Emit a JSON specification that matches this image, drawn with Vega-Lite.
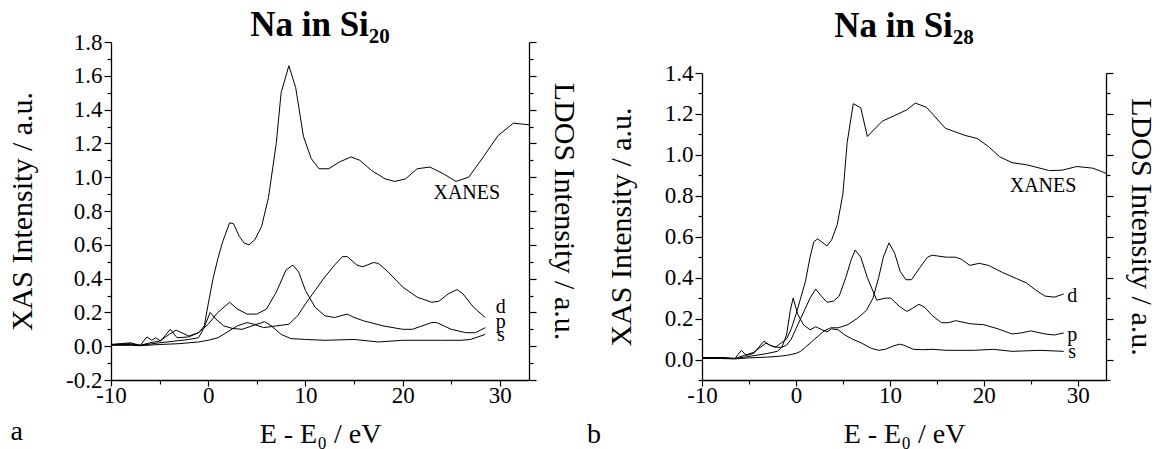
{
  "$schema": "https://vega.github.io/schema/vega-lite/v6.json",
  "background": "white",
  "padding": {"left": 7, "top": 8, "right": 0, "bottom": 0},
  "spacing": 7,
  "config": {
    "view": {"stroke": null},
    "axis": {"labelFont": "Liberation Serif, Times New Roman, serif", "titleFont": "Liberation Serif, Times New Roman, serif"},
    "style": {"guide-label": {"font": "Liberation Serif, Times New Roman, serif"}, "guide-title": {"font": "Liberation Serif, Times New Roman, serif"}}
  },
  "datasets": {
    "a": [
      {"c":"XANES","x":-10,"y":0.01},{"c":"XANES","x":-9,"y":0.015},{"c":"XANES","x":-8,"y":0.02},{"c":"XANES","x":-7,"y":0.005},{"c":"XANES","x":-6.3,"y":0.055},{"c":"XANES","x":-5.8,"y":0.035},{"c":"XANES","x":-5.4,"y":0.05},{"c":"XANES","x":-4.9,"y":0.03},{"c":"XANES","x":-3.9,"y":0.1},{"c":"XANES","x":-3.2,"y":0.05},{"c":"XANES","x":-2,"y":0.055},{"c":"XANES","x":-1,"y":0.08},{"c":"XANES","x":-0.4,"y":0.12},{"c":"XANES","x":0,"y":0.25},{"c":"XANES","x":0.5,"y":0.4},{"c":"XANES","x":1,"y":0.52},{"c":"XANES","x":1.5,"y":0.62},{"c":"XANES","x":2.2,"y":0.73},{"c":"XANES","x":2.6,"y":0.725},{"c":"XANES","x":3.2,"y":0.65},{"c":"XANES","x":3.7,"y":0.61},{"c":"XANES","x":4.2,"y":0.6},{"c":"XANES","x":4.8,"y":0.63},{"c":"XANES","x":5.5,"y":0.71},{"c":"XANES","x":6.2,"y":0.88},{"c":"XANES","x":7.0,"y":1.2},{"c":"XANES","x":7.5,"y":1.5},{"c":"XANES","x":8.3,"y":1.66},{"c":"XANES","x":9.0,"y":1.53},{"c":"XANES","x":9.8,"y":1.24},{"c":"XANES","x":10.6,"y":1.11},{"c":"XANES","x":11.4,"y":1.05},{"c":"XANES","x":12.4,"y":1.05},{"c":"XANES","x":13.5,"y":1.09},{"c":"XANES","x":14.7,"y":1.12},{"c":"XANES","x":15.6,"y":1.1},{"c":"XANES","x":16.8,"y":1.04},{"c":"XANES","x":18.2,"y":0.99},{"c":"XANES","x":19.2,"y":0.975},{"c":"XANES","x":20.3,"y":0.99},{"c":"XANES","x":21.5,"y":1.05},{"c":"XANES","x":22.8,"y":1.06},{"c":"XANES","x":24.2,"y":1.02},{"c":"XANES","x":25.5,"y":0.975},{"c":"XANES","x":26.8,"y":1.0},{"c":"XANES","x":28.3,"y":1.12},{"c":"XANES","x":29.8,"y":1.245},{"c":"XANES","x":31.4,"y":1.32},{"c":"XANES","x":33,"y":1.31},
      {"c":"p","x":-10,"y":0.01},{"c":"p","x":-8,"y":0.015},{"c":"p","x":-7,"y":0.005},{"c":"p","x":-6,"y":0.02},{"c":"p","x":-5,"y":0.03},{"c":"p","x":-4,"y":0.07},{"c":"p","x":-3.3,"y":0.095},{"c":"p","x":-2,"y":0.06},{"c":"p","x":-1,"y":0.08},{"c":"p","x":0,"y":0.13},{"c":"p","x":1,"y":0.2},{"c":"p","x":2.2,"y":0.26},{"c":"p","x":3,"y":0.22},{"c":"p","x":4,"y":0.19},{"c":"p","x":5,"y":0.19},{"c":"p","x":6,"y":0.22},{"c":"p","x":7,"y":0.32},{"c":"p","x":8,"y":0.45},{"c":"p","x":8.7,"y":0.48},{"c":"p","x":9.3,"y":0.44},{"c":"p","x":10,"y":0.33},{"c":"p","x":11,"y":0.23},{"c":"p","x":12,"y":0.18},{"c":"p","x":13,"y":0.17},{"c":"p","x":14.3,"y":0.19},{"c":"p","x":15,"y":0.17},{"c":"p","x":16,"y":0.15},{"c":"p","x":18,"y":0.12},{"c":"p","x":20,"y":0.1},{"c":"p","x":21,"y":0.1},{"c":"p","x":22,"y":0.12},{"c":"p","x":23,"y":0.14},{"c":"p","x":23.5,"y":0.14},{"c":"p","x":25,"y":0.1},{"c":"p","x":26.5,"y":0.08},{"c":"p","x":27.5,"y":0.08},{"c":"p","x":28.5,"y":0.11},
      {"c":"s","x":-10,"y":0.01},{"c":"s","x":-8,"y":0.01},{"c":"s","x":-7,"y":0.005},{"c":"s","x":-5,"y":0.02},{"c":"s","x":-3.5,"y":0.03},{"c":"s","x":-2,"y":0.04},{"c":"s","x":-1,"y":0.05},{"c":"s","x":-0.5,"y":0.1},{"c":"s","x":0.2,"y":0.2},{"c":"s","x":0.8,"y":0.16},{"c":"s","x":1.6,"y":0.12},{"c":"s","x":2.5,"y":0.105},{"c":"s","x":3.5,"y":0.1},{"c":"s","x":4.5,"y":0.12},{"c":"s","x":5.8,"y":0.145},{"c":"s","x":6.5,"y":0.12},{"c":"s","x":7.5,"y":0.07},{"c":"s","x":8.5,"y":0.045},{"c":"s","x":10,"y":0.04},{"c":"s","x":12,"y":0.035},{"c":"s","x":15,"y":0.04},{"c":"s","x":17.5,"y":0.025},{"c":"s","x":20,"y":0.035},{"c":"s","x":24,"y":0.035},{"c":"s","x":26,"y":0.035},{"c":"s","x":27,"y":0.04},{"c":"s","x":28.5,"y":0.07},
      {"c":"d","x":-10,"y":0.005},{"c":"d","x":-8,"y":0.005},{"c":"d","x":-7,"y":0.003},{"c":"d","x":-5,"y":0.01},{"c":"d","x":-3,"y":0.015},{"c":"d","x":-1,"y":0.025},{"c":"d","x":0,"y":0.035},{"c":"d","x":1,"y":0.05},{"c":"d","x":2,"y":0.085},{"c":"d","x":3,"y":0.12},{"c":"d","x":4,"y":0.14},{"c":"d","x":4.7,"y":0.13},{"c":"d","x":5.7,"y":0.11},{"c":"d","x":7,"y":0.12},{"c":"d","x":8.3,"y":0.13},{"c":"d","x":9.2,"y":0.18},{"c":"d","x":10,"y":0.25},{"c":"d","x":11,"y":0.33},{"c":"d","x":12,"y":0.41},{"c":"d","x":13,"y":0.48},{"c":"d","x":13.8,"y":0.53},{"c":"d","x":14.3,"y":0.53},{"c":"d","x":15.3,"y":0.48},{"c":"d","x":15.9,"y":0.47},{"c":"d","x":17,"y":0.495},{"c":"d","x":17.5,"y":0.49},{"c":"d","x":18.5,"y":0.44},{"c":"d","x":20,"y":0.35},{"c":"d","x":21.5,"y":0.29},{"c":"d","x":23,"y":0.26},{"c":"d","x":23.7,"y":0.265},{"c":"d","x":24.7,"y":0.31},{"c":"d","x":25.6,"y":0.335},{"c":"d","x":26.2,"y":0.31},{"c":"d","x":27.3,"y":0.23},{"c":"d","x":28.5,"y":0.17}
    ],
    "b": [
      {"c":"XANES","x":-10,"y":0.01},{"c":"XANES","x":-8,"y":0.01},{"c":"XANES","x":-6.5,"y":0.005},{"c":"XANES","x":-5.8,"y":0.045},{"c":"XANES","x":-5.3,"y":0.02},{"c":"XANES","x":-4.5,"y":0.03},{"c":"XANES","x":-3.4,"y":0.09},{"c":"XANES","x":-2.8,"y":0.07},{"c":"XANES","x":-2.2,"y":0.06},{"c":"XANES","x":-1.6,"y":0.08},{"c":"XANES","x":-1,"y":0.1},{"c":"XANES","x":-0.5,"y":0.15},{"c":"XANES","x":0,"y":0.22},{"c":"XANES","x":0.5,"y":0.3},{"c":"XANES","x":1,"y":0.38},{"c":"XANES","x":1.5,"y":0.5},{"c":"XANES","x":1.9,"y":0.575},{"c":"XANES","x":2.3,"y":0.59},{"c":"XANES","x":3.3,"y":0.555},{"c":"XANES","x":3.8,"y":0.585},{"c":"XANES","x":4.4,"y":0.66},{"c":"XANES","x":5.0,"y":0.81},{"c":"XANES","x":5.45,"y":1.06},{"c":"XANES","x":6.1,"y":1.25},{"c":"XANES","x":6.9,"y":1.23},{"c":"XANES","x":7.6,"y":1.09},{"c":"XANES","x":9.2,"y":1.165},{"c":"XANES","x":10.4,"y":1.19},{"c":"XANES","x":11.8,"y":1.22},{"c":"XANES","x":12.7,"y":1.253},{"c":"XANES","x":13.9,"y":1.232},{"c":"XANES","x":15.9,"y":1.13},{"c":"XANES","x":18,"y":1.095},{"c":"XANES","x":19.3,"y":1.08},{"c":"XANES","x":20.5,"y":1.04},{"c":"XANES","x":21.7,"y":0.99},{"c":"XANES","x":23,"y":0.962},{"c":"XANES","x":24.6,"y":0.951},{"c":"XANES","x":27,"y":0.923},{"c":"XANES","x":28.3,"y":0.925},{"c":"XANES","x":29.9,"y":0.943},{"c":"XANES","x":31.6,"y":0.935},{"c":"XANES","x":33,"y":0.91},
      {"c":"p","x":-10,"y":0.01},{"c":"p","x":-8,"y":0.008},{"c":"p","x":-6.5,"y":0.005},{"c":"p","x":-5.5,"y":0.02},{"c":"p","x":-4.5,"y":0.035},{"c":"p","x":-3.2,"y":0.08},{"c":"p","x":-2.5,"y":0.065},{"c":"p","x":-2,"y":0.06},{"c":"p","x":-1.5,"y":0.06},{"c":"p","x":-1,"y":0.07},{"c":"p","x":-0.5,"y":0.1},{"c":"p","x":0,"y":0.15},{"c":"p","x":0.5,"y":0.2},{"c":"p","x":1,"y":0.25},{"c":"p","x":1.5,"y":0.3},{"c":"p","x":2.1,"y":0.345},{"c":"p","x":2.7,"y":0.31},{"c":"p","x":3.3,"y":0.28},{"c":"p","x":4.0,"y":0.285},{"c":"p","x":4.6,"y":0.31},{"c":"p","x":5.3,"y":0.4},{"c":"p","x":5.9,"y":0.49},{"c":"p","x":6.3,"y":0.535},{"c":"p","x":6.9,"y":0.5},{"c":"p","x":7.6,"y":0.4},{"c":"p","x":8.6,"y":0.29},{"c":"p","x":9.5,"y":0.3},{"c":"p","x":10.1,"y":0.3},{"c":"p","x":11,"y":0.26},{"c":"p","x":11.8,"y":0.235},{"c":"p","x":12.4,"y":0.25},{"c":"p","x":13.1,"y":0.27},{"c":"p","x":13.7,"y":0.255},{"c":"p","x":14.5,"y":0.215},{"c":"p","x":15.5,"y":0.18},{"c":"p","x":16.2,"y":0.18},{"c":"p","x":17,"y":0.19},{"c":"p","x":18.5,"y":0.175},{"c":"p","x":20,"y":0.17},{"c":"p","x":21.5,"y":0.15},{"c":"p","x":23,"y":0.125},{"c":"p","x":24,"y":0.13},{"c":"p","x":25,"y":0.14},{"c":"p","x":26.5,"y":0.125},{"c":"p","x":27.5,"y":0.12},{"c":"p","x":28.5,"y":0.13},
      {"c":"s","x":-10,"y":0.01},{"c":"s","x":-8,"y":0.008},{"c":"s","x":-6.5,"y":0.005},{"c":"s","x":-5,"y":0.015},{"c":"s","x":-3,"y":0.03},{"c":"s","x":-2,"y":0.04},{"c":"s","x":-1.5,"y":0.06},{"c":"s","x":-1,"y":0.12},{"c":"s","x":-0.6,"y":0.24},{"c":"s","x":-0.3,"y":0.3},{"c":"s","x":0.2,"y":0.22},{"c":"s","x":0.8,"y":0.17},{"c":"s","x":1.5,"y":0.145},{"c":"s","x":2.1,"y":0.16},{"c":"s","x":2.8,"y":0.145},{"c":"s","x":3.3,"y":0.135},{"c":"s","x":3.8,"y":0.15},{"c":"s","x":4.5,"y":0.145},{"c":"s","x":5.2,"y":0.12},{"c":"s","x":6,"y":0.1},{"c":"s","x":7,"y":0.08},{"c":"s","x":8,"y":0.055},{"c":"s","x":8.8,"y":0.045},{"c":"s","x":9.5,"y":0.05},{"c":"s","x":10.3,"y":0.065},{"c":"s","x":11,"y":0.075},{"c":"s","x":11.5,"y":0.07},{"c":"s","x":12.5,"y":0.05},{"c":"s","x":13.5,"y":0.048},{"c":"s","x":14.5,"y":0.05},{"c":"s","x":16,"y":0.045},{"c":"s","x":19,"y":0.045},{"c":"s","x":21,"y":0.05},{"c":"s","x":23,"y":0.04},{"c":"s","x":26,"y":0.045},{"c":"s","x":28.5,"y":0.04},
      {"c":"d","x":-10,"y":0.005},{"c":"d","x":-8,"y":0.005},{"c":"d","x":-6.5,"y":0.003},{"c":"d","x":-5,"y":0.008},{"c":"d","x":-3,"y":0.012},{"c":"d","x":-2,"y":0.015},{"c":"d","x":-1,"y":0.02},{"c":"d","x":0,"y":0.03},{"c":"d","x":0.5,"y":0.04},{"c":"d","x":1,"y":0.06},{"c":"d","x":2,"y":0.1},{"c":"d","x":3,"y":0.14},{"c":"d","x":3.7,"y":0.155},{"c":"d","x":4.5,"y":0.155},{"c":"d","x":5.5,"y":0.17},{"c":"d","x":6.5,"y":0.2},{"c":"d","x":7.5,"y":0.24},{"c":"d","x":8.2,"y":0.3},{"c":"d","x":8.8,"y":0.4},{"c":"d","x":9.3,"y":0.5},{"c":"d","x":9.9,"y":0.57},{"c":"d","x":10.5,"y":0.52},{"c":"d","x":11.1,"y":0.43},{"c":"d","x":11.7,"y":0.39},{"c":"d","x":12.3,"y":0.39},{"c":"d","x":13.2,"y":0.45},{"c":"d","x":14,"y":0.5},{"c":"d","x":14.5,"y":0.51},{"c":"d","x":15.2,"y":0.505},{"c":"d","x":16,"y":0.5},{"c":"d","x":17,"y":0.5},{"c":"d","x":17.6,"y":0.49},{"c":"d","x":18.5,"y":0.46},{"c":"d","x":19.5,"y":0.47},{"c":"d","x":20.5,"y":0.46},{"c":"d","x":22,"y":0.425},{"c":"d","x":23.5,"y":0.395},{"c":"d","x":24.5,"y":0.375},{"c":"d","x":25.5,"y":0.34},{"c":"d","x":26.5,"y":0.31},{"c":"d","x":27.5,"y":0.305},{"c":"d","x":28.5,"y":0.32}
    ],
    "la": [
      {"x":26.6,"y":0.905,"t":"XANES"},{"x":30.1,"y":0.234,"t":"d"},{"x":30.1,"y":0.145,"t":"p"},{"x":30.1,"y":0.066,"t":"s"}
    ],
    "lb": [
      {"x":26.3,"y":0.848,"t":"XANES"},{"x":29.4,"y":0.31,"t":"d"},{"x":29.4,"y":0.12,"t":"p"},{"x":29.4,"y":0.036,"t":"s"}
    ],
    "pa": [{"x":-19.7,"y":-0.555,"t":"a"}],
    "pb": [{"x":-21.5,"y":-0.407,"t":"b"}]
  },
  "hconcat": [
    {
      "width": 418,
      "height": 338,
      "title": {"text": "Na in Si₂₀", "font": "Liberation Serif", "fontSize": 35, "fontWeight": "bold", "anchor": "middle", "baseline": "alphabetic", "offset": -40, "color": "black"},
      "layer": [
        {
          "data": {"name": "a"},
          "mark": {"type": "line", "color": "black", "strokeWidth": 1},
          "encoding": {
            "x": {"field": "x", "type": "quantitative", "title": "E - E₀ / eV",
              "scale": {"domain": [-10, 33], "nice": false, "zero": false},
              "axis": {"values": [-10,-5,0,5,10,15,20,25,30], "labelExpr": "datum.value % 10 == 0 ? toString(datum.value) : ''",
                "tickSize": {"condition": {"test": "datum.value % 10 == 0", "value": 6}, "value": 4},
                "labelFont": "Liberation Serif, Times New Roman, serif", "titleFont": "Liberation Serif, Times New Roman, serif", "labelFontSize": 23, "titleFontSize": 28, "titleFontWeight": 400,
                "labelColor": "black", "titleColor": "black", "domainColor": "black", "tickColor": "black", "domainWidth": 1.3, "tickWidth": 1.2,
                "grid": false, "labelFlush": false, "labelOverlap": false, "labelPadding": -2, "titlePadding": 13}},
            "y": {"field": "y", "type": "quantitative", "title": "XAS Intensity / a.u.",
              "scale": {"domain": [-0.2, 1.8], "nice": false, "zero": false},
              "axis": {"orient": "left", "values": [-0.2,-0.1,0,0.1,0.2,0.3,0.4,0.5,0.6,0.7,0.8,0.9,1.0,1.1,1.2,1.3,1.4,1.5,1.6,1.7,1.8],
                "labelExpr": "abs(round(datum.value*10)) % 2 == 0 ? replace(format(datum.value, '.1f'), '−', '-') : ''",
                "tickSize": {"condition": {"test": "abs(round(datum.value*10)) % 2 == 0", "value": 7}, "value": 4},
                "labelFont": "Liberation Serif, Times New Roman, serif", "titleFont": "Liberation Serif, Times New Roman, serif", "labelFontSize": 23, "titleFontSize": 30, "titleFontWeight": 400,
                "labelColor": "black", "titleColor": "black", "domainColor": "black", "tickColor": "black", "domainWidth": 1.3, "tickWidth": 1.2,
                "grid": false, "labelOverlap": false, "labelPadding": 2, "titlePadding": 28}},
            "detail": {"field": "c"}
          }
        },
        {
          "data": {"name": "la"},
          "mark": {"type": "text", "font": "Liberation Serif", "fontSize": 20, "color": "black", "align": "center", "baseline": "middle"},
          "encoding": {
            "x": {"field": "x", "type": "quantitative", "title": "E - E₀ / eV"},
            "y": {"field": "y", "type": "quantitative", "title": "LDOS Intensity / a.u.",
              "axis": {"orient": "right", "values": [-0.2,-0.1,0,0.1,0.2,0.3,0.4,0.5,0.6,0.7,0.8,0.9,1.0,1.1,1.2,1.3,1.4,1.5,1.6,1.7,1.8],
                "labels": false,
                "tickSize": {"condition": {"test": "abs(round(datum.value*10)) % 2 == 0", "value": 7}, "value": 4},
                "titleFont": "Liberation Serif, Times New Roman, serif", "titleFontSize": 30, "titleFontWeight": 400, "titleColor": "black",
                "domainColor": "black", "tickColor": "black", "domainWidth": 1.3, "tickWidth": 1.2, "grid": false, "titlePadding": 12}},
            "text": {"field": "t"}
          }
        },
        {
          "data": {"name": "pa"},
          "mark": {"type": "text", "font": "Liberation Serif", "fontSize": 28, "color": "black", "align": "center", "baseline": "alphabetic"},
          "encoding": {
            "x": {"field": "x", "type": "quantitative", "title": "E - E₀ / eV"},
            "y": {"field": "y", "type": "quantitative", "axis": null},
            "text": {"field": "t"}
          }
        }
      ],
      "resolve": {"axis": {"y": "independent"}}
    },
    {
      "width": 404,
      "height": 338,
      "title": {"text": "Na in Si₂₈", "font": "Liberation Serif", "fontSize": 35, "fontWeight": "bold", "anchor": "middle", "baseline": "alphabetic", "offset": -30, "color": "black"},
      "layer": [
        {
          "data": {"name": "b"},
          "mark": {"type": "line", "color": "black", "strokeWidth": 1},
          "encoding": {
            "x": {"field": "x", "type": "quantitative", "title": "E - E₀ / eV",
              "scale": {"domain": [-10, 33], "nice": false, "zero": false},
              "axis": {"values": [-10,-5,0,5,10,15,20,25,30], "labelExpr": "datum.value % 10 == 0 ? toString(datum.value) : ''",
                "tickSize": {"condition": {"test": "datum.value % 10 == 0", "value": 6}, "value": 4},
                "labelFont": "Liberation Serif, Times New Roman, serif", "titleFont": "Liberation Serif, Times New Roman, serif", "labelFontSize": 23, "titleFontSize": 28, "titleFontWeight": 400,
                "labelColor": "black", "titleColor": "black", "domainColor": "black", "tickColor": "black", "domainWidth": 1.3, "tickWidth": 1.2,
                "grid": false, "labelFlush": false, "labelOverlap": false, "labelPadding": -2, "titlePadding": 13}},
            "y": {"field": "y", "type": "quantitative", "title": "XAS Intensity / a.u.",
              "scale": {"domain": [-0.1, 1.4], "nice": false, "zero": false, "range": [338, 31]},
              "axis": {"orient": "left", "values": [-0.1,0,0.1,0.2,0.3,0.4,0.5,0.6,0.7,0.8,0.9,1.0,1.1,1.2,1.3,1.4],
                "labelExpr": "abs(round(datum.value*10)) % 2 == 0 ? replace(format(datum.value, '.1f'), '−', '-') : ''",
                "tickSize": {"condition": {"test": "abs(round(datum.value*10)) % 2 == 0", "value": 7}, "value": 4},
                "labelFont": "Liberation Serif, Times New Roman, serif", "titleFont": "Liberation Serif, Times New Roman, serif", "labelFontSize": 23, "titleFontSize": 30, "titleFontWeight": 400,
                "labelColor": "black", "titleColor": "black", "domainColor": "black", "tickColor": "black", "domainWidth": 1.3, "tickWidth": 1.2,
                "grid": false, "labelOverlap": false, "labelPadding": 2, "titlePadding": 28}},
            "detail": {"field": "c"}
          }
        },
        {
          "data": {"name": "lb"},
          "mark": {"type": "text", "font": "Liberation Serif", "fontSize": 20, "color": "black", "align": "center", "baseline": "middle"},
          "encoding": {
            "x": {"field": "x", "type": "quantitative", "title": "E - E₀ / eV"},
            "y": {"field": "y", "type": "quantitative", "title": "LDOS Intensity / a.u.",
              "axis": {"orient": "right", "values": [-0.1,0,0.1,0.2,0.3,0.4,0.5,0.6,0.7,0.8,0.9,1.0,1.1,1.2,1.3,1.4],
                "labels": false,
                "tickSize": {"condition": {"test": "abs(round(datum.value*10)) % 2 == 0", "value": 7}, "value": 4},
                "titleFont": "Liberation Serif, Times New Roman, serif", "titleFontSize": 30, "titleFontWeight": 400, "titleColor": "black",
                "domainColor": "black", "tickColor": "black", "domainWidth": 1.3, "tickWidth": 1.2, "grid": false, "titlePadding": 12}},
            "text": {"field": "t"}
          }
        },
        {
          "data": {"name": "pb"},
          "mark": {"type": "text", "font": "Liberation Serif", "fontSize": 28, "color": "black", "align": "center", "baseline": "alphabetic"},
          "encoding": {
            "x": {"field": "x", "type": "quantitative", "title": "E - E₀ / eV"},
            "y": {"field": "y", "type": "quantitative", "axis": null},
            "text": {"field": "t"}
          }
        }
      ],
      "resolve": {"axis": {"y": "independent"}}
    }
  ]
}
